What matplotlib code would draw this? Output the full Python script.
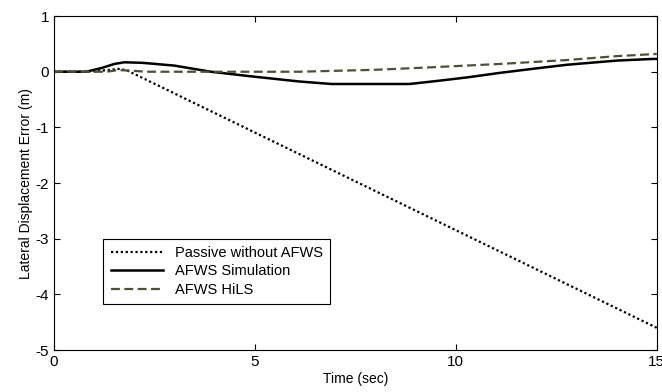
import numpy as np
import matplotlib.pyplot as plt

plt.rcParams['font.family'] = ['Liberation Sans', 'DejaVu Sans']
plt.rcParams['axes.unicode_minus'] = False

# values
t_passive = [0, 0.8, 1.2, 1.6, 1.8, 15]
y_passive = [0, 0, 0.02, 0.05, 0.03, -4.6]

t_sim = [0, 0.8, 1.2, 1.5, 1.75, 2.2, 3.0, 3.9, 5.0, 6.1, 6.9, 8.85, 9.6, 10.3, 11.1, 12.0, 12.76, 14.0, 14.9, 15]
y_sim = [0, 0, 0.07, 0.14, 0.17, 0.16, 0.11, 0.0, -0.09, -0.175, -0.22, -0.22, -0.16, -0.1, -0.02, 0.06, 0.125, 0.2, 0.23, 0.23]

t_hils = [0, 1.3, 1.6, 1.9, 2.3, 6.1, 8.0, 9.4, 11.1, 12.76, 14.0, 15]
y_hils = [0, 0, 0.03, 0.02, 0, 0, 0.035, 0.08, 0.14, 0.21, 0.28, 0.32]

fig = plt.figure(figsize=(6.62, 3.92), dpi=100)
ax = fig.add_axes([0.0816, 0.107, 0.9104, 0.852])

ax.plot(t_passive, y_passive, color='black', linestyle=(0, (1, 1.2)), linewidth=1.6, label='Passive without AFWS')
ax.plot(t_sim, y_sim, color='black', linestyle='-', linewidth=1.8, label='AFWS Simulation')
ax.plot(t_hils, y_hils, color='#4f4f35', linestyle=(0, (4, 2)), linewidth=1.6, label='AFWS HiLS')

ax.set_xlim(0, 15)
ax.set_ylim(-5, 1)
ax.set_xticks([0, 5, 10, 15])
ax.set_yticks([-5, -4, -3, -2, -1, 0, 1])
ax.tick_params(direction='in', top=True, right=True, labelsize=11, length=4)
ax.set_xlabel('Time (sec)', fontsize=10, labelpad=2)
ax.set_ylabel('Lateral Displacement Error (m)', fontsize=10, labelpad=2)

leg = ax.legend(loc='upper left', bbox_to_anchor=(0.07, 0.355), fontsize=10.5,
                fancybox=False, framealpha=1, edgecolor='black',
                handlelength=3.6, borderpad=0.5, labelspacing=0.3)
leg.get_frame().set_linewidth(0.8)

fig.savefig('out.png', dpi=100)
